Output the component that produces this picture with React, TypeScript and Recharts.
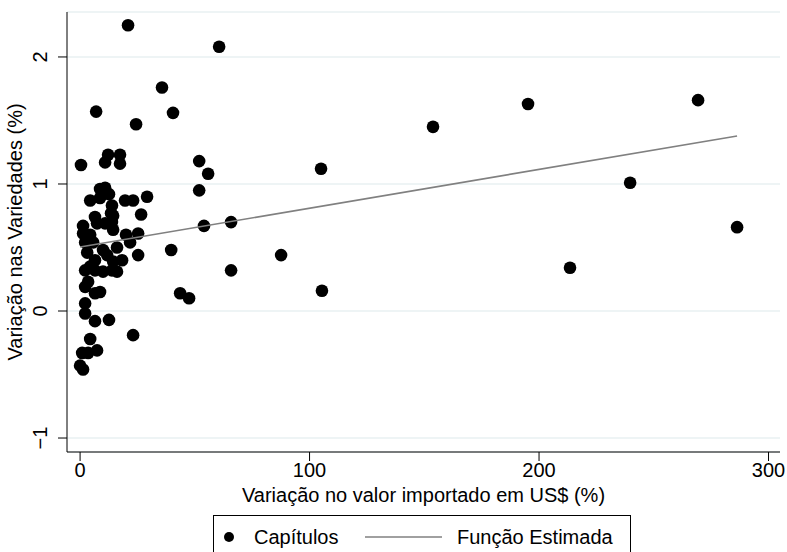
import { ScatterChart, Scatter, XAxis, YAxis, CartesianGrid } from 'recharts';

// Variação no valor importado (%) x Variação nas variedades (%), one point per capítulo
const importVariation = [
  7.0, 24.4, 0.4, 12.2, 17.4, 10.9, 17.4, 8.7, 10.9, 12.6,
  8.7, 4.4, 19.6, 23.1, 29.2, 13.9, 13.5, 26.6, 6.5, 14.4,
  1.3, 7.4, 10.9, 13.9, 1.3, 4.4, 14.4, 20.0, 25.3, 2.2,
  5.7, 21.8, 16.1, 10.0, 25.3, 3.1, 6.5, 11.8, 14.4, 18.3,
  2.2, 6.5, 10.0, 13.9, 16.1, 4.4, 3.5, 2.2, 6.5, 8.7,
  2.2, 2.2, 6.5, 12.6, 23.1, 4.4, 0.9, 3.5, 7.4, 0.0,
  1.3, 20.9, 60.6, 35.7, 40.5, 195.2, 269.3, 153.8, 105.0, 239.7,
  286.3, 213.5, 105.4, 87.6, 65.8, 65.8, 54.0, 55.8, 51.9, 51.9,
  39.7, 43.6, 47.5,
];
const varietyVariation = [
  1.57, 1.47, 1.15, 1.23, 1.23, 1.17, 1.16, 0.96, 0.97, 0.92,
  0.89, 0.87, 0.87, 0.87, 0.9, 0.83, 0.77, 0.76, 0.74, 0.75,
  0.67, 0.69, 0.69, 0.7, 0.61, 0.6, 0.64, 0.6, 0.61, 0.54,
  0.54, 0.54, 0.5, 0.48, 0.44, 0.46, 0.4, 0.44, 0.39, 0.4,
  0.32, 0.32, 0.31, 0.32, 0.31, 0.35, 0.23, 0.19, 0.14, 0.15,
  0.06, -0.02, -0.08, -0.07, -0.19, -0.22, -0.33, -0.33, -0.31, -0.43,
  -0.46, 2.25, 2.08, 1.76, 1.56, 1.63, 1.66, 1.45, 1.12, 1.01,
  0.66, 0.34, 0.16, 0.44, 0.32, 0.7, 0.67, 1.08, 1.18, 0.95,
  0.48, 0.14, 0.1,
];

// fitted line (Função Estimada), endpoints
const fitX = [0, 286.3];
const fitY = [0.504, 1.378];

const xTicks = [0, 100, 200, 300];
const yTicks = [-1, 0, 1, 2];

const points = importVariation.map((x, i) => ({ x, y: varietyVariation[i] }));
const fitLine = fitX.map((x, i) => ({ x, y: fitY[i] }));

const FONT = '"Liberation Sans", Arial, Helvetica, sans-serif';

function Dot(props: any) {
  return <circle cx={props.cx} cy={props.cy} r={6.3} fill="#000" />;
}

function YTick({ y, payload }: any) {
  return (
    <text
      x={40}
      y={y}
      transform={`rotate(-90, 40, ${y})`}
      textAnchor="middle"
      dominantBaseline="central"
      fontSize={20}
      fontFamily={FONT}
      fill="#000"
    >
      {payload.value < 0 ? `\u2212${Math.abs(payload.value)}` : payload.value}
    </text>
  );
}

export default function App() {
  return (
    <div style={{ position: 'absolute', left: 0, top: 0, width: 787, height: 552, background: '#fff', fontFamily: FONT }}>
      <ScatterChart width={787} height={552} margin={{ top: 12, right: 7, bottom: 40, left: 0 }}>
        <CartesianGrid vertical={false} stroke="#e8f0f2" strokeWidth={1.5} />
        <XAxis
          type="number"
          dataKey="x"
          domain={[-5.7, 305]}
          ticks={xTicks}
          allowDataOverflow
          height={60}
          tickSize={9}
          axisLine={{ stroke: '#000' }}
          tickLine={{ stroke: '#000' }}
          tick={{ fill: '#000', fontSize: 20, fontFamily: FONT }}
          label={({ viewBox }: any) => (
            <text x={viewBox.x + viewBox.width / 2} y={502} textAnchor="middle" fontSize={20} fontFamily={FONT} fill="#000">
              Variação no valor importado em US$ (%)
            </text>
          )}
        />
        <YAxis
          type="number"
          dataKey="y"
          domain={[-1.11, 2.354]}
          ticks={yTicks}
          allowDataOverflow
          width={67}
          tickSize={9}
          axisLine={{ stroke: '#000' }}
          tickLine={{ stroke: '#000' }}
          tick={<YTick />}
          label={({ viewBox }: any) => {
            const cy = viewBox.y + viewBox.height / 2;
            return (
              <text
                x={15}
                y={cy}
                transform={`rotate(-90, 15, ${cy})`}
                textAnchor="middle"
                dominantBaseline="central"
                fontSize={20}
                fontFamily={FONT}
                fill="#000"
              >
                Variação nas Variedades (%)
              </text>
            );
          }}
        />
        <Scatter data={points} shape={<Dot />} isAnimationActive={false} />
        <Scatter
          data={fitLine}
          line={{ stroke: '#808080', strokeWidth: 1.6 }}
          shape={() => <g />}
          isAnimationActive={false}
        />
      </ScatterChart>
      <div
        style={{
          position: 'absolute',
          left: 213,
          top: 515,
          width: 418,
          height: 45,
          border: '1px solid #000',
          boxSizing: 'border-box',
          background: '#fff',
        }}
      >
        <svg width={418} height={45} style={{ position: 'absolute', left: -1, top: -1 }}>
          <circle cx={16} cy={22} r={5} fill="#000" />
          <text x={41} y={29} fontSize={20} fontFamily={FONT} fill="#000">Capítulos</text>
          <line x1={152} x2={229} y1={22} y2={22} stroke="#808080" strokeWidth={1.6} />
          <text x={244} y={29} fontSize={20} fontFamily={FONT} fill="#000">Função Estimada</text>
        </svg>
      </div>
    </div>
  );
}
